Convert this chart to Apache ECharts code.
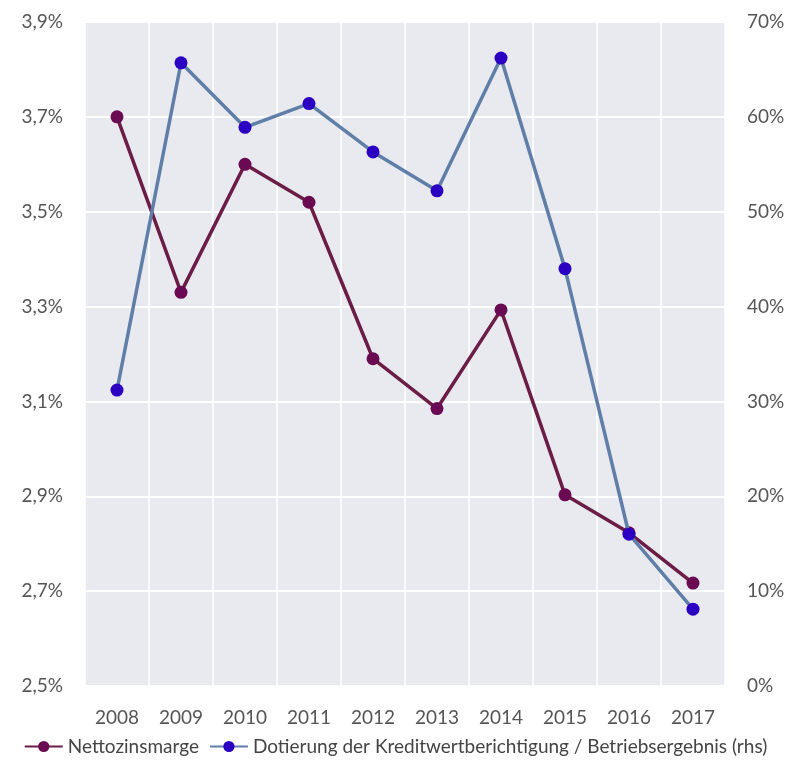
<!DOCTYPE html>
<html>
<head>
<meta charset="utf-8">
<script src="https://cdn.jsdelivr.net/npm/echarts@6/dist/echarts.min.js"></script>
<style>
  html, body { margin: 0; padding: 0; background: #fff; }
  #chart { width: 791px; height: 765px; }
</style>
</head>
<body>
<div id="chart"></div>
<script>
const years = ['2008', '2009', '2010', '2011', '2012', '2013', '2014', '2015', '2016', '2017'];
// Nettozinsmarge (left axis, %)
const nettozinsmarge = [3.70, 3.33, 3.60, 3.52, 3.19, 3.085, 3.293, 2.903, 2.823, 2.717];
// Dotierung der Kreditwertberichtigung / Betriebsergebnis (right axis, %)
const dotierung = [31.2, 65.7, 58.9, 61.4, 56.3, 52.2, 66.2, 44.0, 16.0, 8.1];

const labelFont = 'Lato, "Open Sans", sans-serif';
const chart = echarts.init(document.getElementById('chart'));

chart.setOption({
  backgroundColor: '#fff',
  textStyle: { fontFamily: labelFont },
  grid: {
    left: 85, right: 66, top: 22, bottom: 79,
    show: true, backgroundColor: '#e8eaf0', borderWidth: 0
  },
  legend: {
    bottom: 4,
    left: 'center',
    itemWidth: 38,
    itemHeight: 14,
    itemGap: 10,
    textStyle: { fontSize: 19, color: '#444', fontFamily: labelFont },
    data: ['Nettozinsmarge', 'Dotierung der Kreditwertberichtigung / Betriebsergebnis (rhs)']
  },
  xAxis: {
    type: 'category',
    data: years,
    boundaryGap: true,
    axisLine: { show: false },
    axisTick: { show: false },
    axisLabel: { color: '#555', fontSize: 19, margin: 22 },
    splitLine: { show: true, lineStyle: { color: '#ffffff', width: 1.5 } }
  },
  yAxis: [
    {
      type: 'value', min: 2.5, max: 3.9, interval: 0.2,
      axisLine: { show: false }, axisTick: { show: false },
      axisLabel: {
        color: '#555', fontSize: 19, margin: 22,
        formatter: v => v.toFixed(1).replace('.', ',') + '%'
      },
      splitLine: { lineStyle: { color: '#ffffff', width: 2 } }
    },
    {
      type: 'value', min: 0, max: 70, interval: 10,
      axisLine: { show: false }, axisTick: { show: false },
      axisLabel: { color: '#555', fontSize: 19, margin: 22, formatter: '{value}%' },
      splitLine: { show: false }
    }
  ],
  series: [
    {
      name: 'Nettozinsmarge',
      type: 'line',
      data: nettozinsmarge,
      yAxisIndex: 0,
      symbol: 'circle',
      symbolSize: 13,
      lineStyle: { color: '#6b1d45', width: 3.5 },
      itemStyle: { color: '#6a0a52' },
      z: 3
    },
    {
      name: 'Dotierung der Kreditwertberichtigung / Betriebsergebnis (rhs)',
      type: 'line',
      data: dotierung,
      yAxisIndex: 1,
      symbol: 'circle',
      symbolSize: 13,
      lineStyle: { color: '#5f7ea8', width: 3.5 },
      itemStyle: { color: '#2b00c2' },
      z: 4
    }
  ]
});
</script>
</body>
</html>
